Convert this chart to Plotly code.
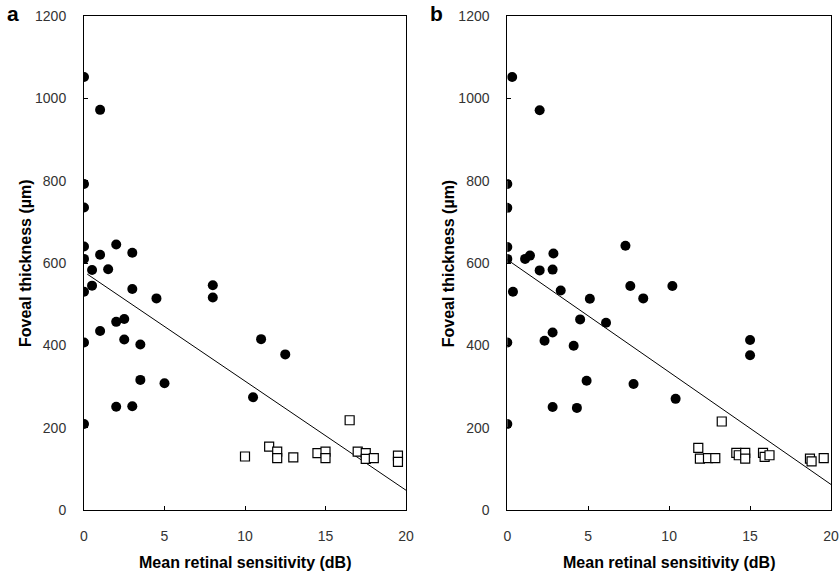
import plotly.graph_objects as go

# Panel a data
a_circ_x = [0, 1, 0, 0, 0, 0, 1, 2, 3, 0.5, 1.5, 0, 0.5, 3, 4.5, 8, 8, 1, 2, 2.5, 2.5, 3.5, 0, 0, 3.5, 5, 2, 3, 10.5, 11, 12.5]
a_circ_y = [1052, 972, 792, 735, 640, 610, 620, 645, 625, 583, 585, 530, 545, 537, 514, 546, 516, 435, 457, 464, 414, 402, 407, 209, 316, 308, 251, 252, 274, 415, 378]
a_sq_x = [10, 11.5, 12, 12, 13, 14.5, 15, 15, 16.5, 17, 17.5, 17.5, 18, 19.5, 19.5]
a_sq_y = [130, 154, 142, 126, 128, 138, 142, 126, 218, 142, 138, 124, 126, 132, 117]
a_fit_x = [0.2, 20]
a_fit_y = [573, 48]

# Panel b data
b_circ_x = [0.3, 2, 0, 0, 0, 0, 1.1, 1.4, 2.85, 7.3, 2, 2.8, 0.35, 0, 0, 3.3, 5.1, 7.6, 8.4, 4.5, 6.1, 2.3, 2.8, 4.1, 4.9, 7.8, 2.8, 4.3, 10.2, 15, 15, 10.4]
b_circ_y = [1052, 971, 792, 734, 639, 610, 610, 618, 623, 642, 582, 584, 530, 407, 209, 533, 513, 544, 514, 463, 455, 411, 431, 399, 314, 306, 250, 248, 544, 413, 376, 270]
b_sq_x = [13.25, 11.8, 11.9, 12.4, 12.85, 14.15, 14.3, 14.7, 14.7, 15.8, 15.9, 16.2, 18.7, 18.8, 19.55]
b_sq_y = [215, 151, 125, 126, 126, 139, 133, 139, 125, 139, 129, 133, 125, 118, 126]
b_fit_x = [0, 20]
b_fit_y = [608, 62]

x_ticks = [0, 5, 10, 15, 20]
y_ticks = [0, 200, 400, 600, 800, 1000, 1200]
x_title = "Mean retinal sensitivity (dB)"
y_title = "Foveal thickness (µm)"
panel_labels = ["a", "b"]

W, H = 840, 579

def fx(px):
    return px / W

def fy(py):
    return (H - py) / H

fig = go.Figure()

def add_panel(cx, cy, sx, sy, lx, ly, xa, ya):
    fig.add_trace(go.Scatter(x=lx, y=ly, mode="lines", line=dict(color="black", width=1),
                             xaxis=xa, yaxis=ya, showlegend=False, hoverinfo="skip"))
    fig.add_trace(go.Scatter(x=cx, y=cy, mode="markers",
                             marker=dict(symbol="circle", size=10, color="black"),
                             xaxis=xa, yaxis=ya, showlegend=False))
    fig.add_trace(go.Scatter(x=sx, y=sy, mode="markers",
                             marker=dict(symbol="square", size=9, color="white",
                                         line=dict(color="black", width=1.2)),
                             xaxis=xa, yaxis=ya, showlegend=False))

add_panel(a_circ_x, a_circ_y, a_sq_x, a_sq_y, a_fit_x, a_fit_y, "x", "y")
add_panel(b_circ_x, b_circ_y, b_sq_x, b_sq_y, b_fit_x, b_fit_y, "x2", "y2")

tickfont = dict(family="Liberation Sans, Arial, sans-serif", size=14, color="#333")
ydom = [fy(510), fy(16)]
common_x = dict(range=[0, 20], tickvals=x_ticks, ticks="inside", ticklen=4, tickcolor="black",
                showline=True, linecolor="black", linewidth=1, mirror=True, showgrid=False,
                zeroline=False, tickfont=tickfont, ticklabelstandoff=13, ticklabeloverflow="allow")
common_y = dict(range=[0, 1200], tickvals=y_ticks, ticks="inside", ticklen=4, tickcolor="black",
                showline=True, linecolor="black", linewidth=1, mirror=True, showgrid=False,
                zeroline=False, tickfont=tickfont, ticklabelstandoff=14, ticklabeloverflow="allow")

a_left, a_right = 84, 406
b_left, b_right = 507.3, 831
fig.update_layout(
    width=W, height=H,
    margin=dict(l=0, r=0, t=0, b=0, autoexpand=False),
    paper_bgcolor="white", plot_bgcolor="white",
    xaxis=dict(domain=[fx(a_left), fx(a_right)], anchor="y", **common_x),
    yaxis=dict(domain=ydom, anchor="x", **common_y),
    xaxis2=dict(domain=[fx(b_left), fx(b_right)], anchor="y2", **common_x),
    yaxis2=dict(domain=ydom, anchor="x2", **common_y),
)

titlefont = dict(family="Liberation Sans, Arial, sans-serif", size=16, color="black")
ann = []
for left, right, lab in [(a_left, a_right, panel_labels[0]), (b_left, b_right, panel_labels[1])]:
    ann.append(dict(text="<b>%s</b>" % x_title, x=fx((left + right) / 2), y=fy(562),
                    xref="paper", yref="paper", xanchor="center", yanchor="middle",
                    showarrow=False, font=titlefont))
    ann.append(dict(text="<b>%s</b>" % y_title, x=fx(left - 59), y=fy(263),
                    xref="paper", yref="paper", xanchor="center", yanchor="middle",
                    textangle=-90, showarrow=False, font=titlefont))
    ann.append(dict(text="<b>%s</b>" % lab, x=fx(left - 71), y=fy(1),
                    xref="paper", yref="paper", xanchor="center", yanchor="top",
                    showarrow=False, borderpad=0,
                    font=dict(family="Liberation Sans, Arial, sans-serif", size=21, color="black")))
fig.update_layout(annotations=ann)

fig.write_html("out.html", config={"displayModeBar": False},
               post_script="document.body.style.margin='0';document.body.style.overflow='hidden';")
